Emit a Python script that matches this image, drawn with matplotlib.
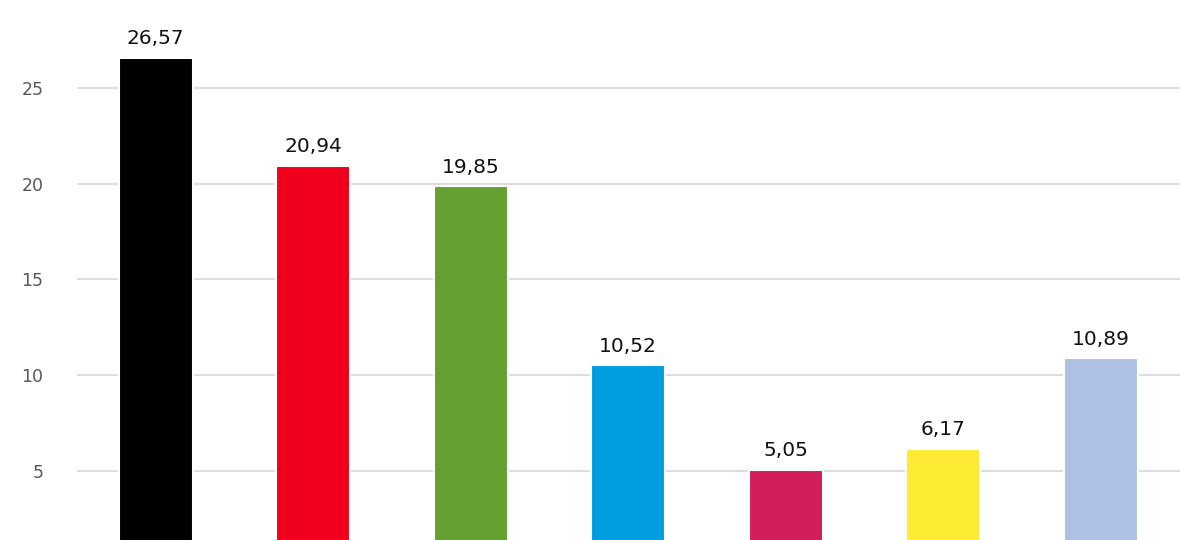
import matplotlib.pyplot as plt

# values
categories = ['A', 'B', 'C', 'D', 'E', 'F', 'G']
values = [26.57, 20.94, 19.85, 10.52, 5.05, 6.17, 10.89]
labels = ['26,57', '20,94', '19,85', '10,52', '5,05', '6,17', '10,89']
colors = ['#000000', '#F0001C', '#64A132', '#009EE0', '#D21F5A', '#FCEB32', '#AEC0E4']
yticks = [5, 10, 15, 20, 25, 30]

fig = plt.figure(figsize=(12, 5.4), dpi=100)
# the reference is cropped: axis runs past the bottom and top of the picture
ax = fig.add_axes([0.064, -0.05, 0.919, 1.065])

x = range(len(categories))
ax.bar(x, values, width=0.47, color=colors, edgecolor='white', linewidth=1.5, zorder=3)

for xi, v, lab in zip(x, values, labels):
    ax.annotate(lab, (xi, v), xytext=(0, 7), textcoords='offset points',
                ha='center', va='bottom', fontsize=14.5, color='#111111')

ax.set_xlim(-0.5, 6.5)
ax.set_ylim(0, 30)
ax.set_yticks(yticks)
ax.set_yticklabels([str(t) for t in yticks])
ax.grid(axis='y', color='#DDDDDD', linewidth=1.5, zorder=0)
ax.tick_params(axis='y', length=0, pad=24, labelsize=12.5, labelcolor='#595959')
ax.tick_params(axis='x', length=0, labelbottom=False)
for s in ax.spines.values():
    s.set_visible(False)

fig.savefig('out.png', dpi=100)
